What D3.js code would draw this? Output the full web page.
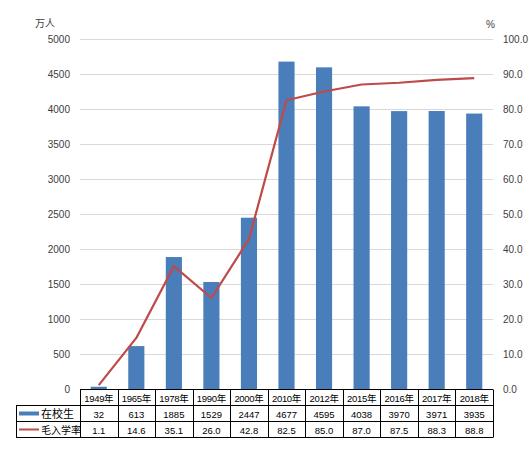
<!DOCTYPE html>
<html>
<head>
<meta charset="utf-8">
<title>在校生与毛入学率</title>
<style type="text/css">
	body{ margin:0; background:#fff; }
	text{ font-family:"Liberation Sans","Noto Sans CJK SC",sans-serif; font-size:10px; fill:#404040; }
	.grid line{ stroke:#d9d9d9; }
	.tbl line{ stroke:#000; }
	.tbl text{ fill:#000; font-size:9.5px; }
	.tbl .hdr{ font-size:9.5px; letter-spacing:-0.3px; }
</style>
<script src="https://cdn.jsdelivr.net/npm/d3@7"></script>
</head>
<body>
<script type="text/javascript">
	var width = 529, height = 450;

	// 数据
	var years = ["1949年", "1965年", "1978年", "1990年", "2000年", "2010年", "2012年", "2015年", "2016年", "2017年", "2018年"];
	var students = [32, 613, 1885, 1529, 2447, 4677, 4595, 4038, 3970, 3971, 3935];
	var rate = [1.1, 14.6, 35.1, 26.0, 42.8, 82.5, 85.0, 87.0, 87.5, 88.3, 88.8];
	var leftTicks = [0, 500, 1000, 1500, 2000, 2500, 3000, 3500, 4000, 4500, 5000];
	var rightTicks = [0, 10, 20, 30, 40, 50, 60, 70, 80, 90, 100];

	var plot = {left: 80, right: 493, top: 39, bottom: 389};
	var rowH = [16, 16, 16];
	var legendLeft = 16;

	var svg = d3.select("body").append("svg")
		.attr("width", width)
		.attr("height", height);

	var x = d3.scaleBand().domain(years).range([plot.left, plot.right]).paddingInner(0.57).paddingOuter(0.285);
	var xCol = d3.scaleBand().domain(years).range([plot.left, plot.right]);
	var yL = d3.scaleLinear().domain([0, 5000]).range([plot.bottom, plot.top]);
	var yR = d3.scaleLinear().domain([0, 100]).range([plot.bottom, plot.top]);

	// 网格线
	svg.append("g").attr("class", "grid")
		.selectAll("line").data(leftTicks.slice(1)).enter().append("line")
		.attr("x1", plot.left).attr("x2", plot.right)
		.attr("y1", function(d){ return Math.round(yL(d)) + 0.5; })
		.attr("y2", function(d){ return Math.round(yL(d)) + 0.5; });

	// 左轴
	var axL = svg.append("g").attr("transform", "translate(" + (plot.left - 10) + ",0)")
		.call(d3.axisLeft(yL).tickValues(leftTicks).tickSize(0).tickPadding(0).tickFormat(d3.format("d")));
	axL.select(".domain").remove();
	axL.selectAll("text").attr("font-family", null).attr("font-size", null);

	// 右轴
	var axR = svg.append("g").attr("transform", "translate(" + (plot.right + 10) + ",0)")
		.call(d3.axisRight(yR).tickValues(rightTicks).tickSize(0).tickPadding(0).tickFormat(d3.format(".1f")));
	axR.select(".domain").remove();
	axR.selectAll("text").attr("font-family", null).attr("font-size", null);

	svg.append("text").attr("x", 35).attr("y", 27).text("万人");
	svg.append("text").attr("x", 486).attr("y", 28).text("%");

	// 柱
	svg.append("g").selectAll("rect").data(students).enter().append("rect")
		.attr("x", function(d, i){ return x(years[i]); })
		.attr("width", x.bandwidth())
		.attr("y", function(d){ return yL(d); })
		.attr("height", function(d){ return plot.bottom - yL(d); })
		.style("fill", "#4a7ebb");

	// 折线
	var line = d3.line()
		.x(function(d, i){ return xCol(years[i]) + xCol.bandwidth() / 2; })
		.y(function(d){ return yR(d); });
	svg.append("path").datum(rate)
		.attr("d", line)
		.style("fill", "none")
		.style("stroke", "#be4b48")
		.style("stroke-width", 2.25)
		.style("stroke-linejoin", "round");

	// 数据表
	var tbl = svg.append("g").attr("class", "tbl");
	var y0 = plot.bottom + 0.5, y1 = y0 + rowH[0], y2 = y1 + rowH[1], y3 = y2 + rowH[2];
	tbl.append("line").attr("x1", plot.left).attr("x2", plot.right).attr("y1", y0).attr("y2", y0);
	[y1, y2, y3].forEach(function(yy){
		tbl.append("line").attr("x1", legendLeft).attr("x2", plot.right).attr("y1", yy).attr("y2", yy);
	});
	tbl.append("line").attr("x1", legendLeft + 0.5).attr("x2", legendLeft + 0.5).attr("y1", y1).attr("y2", y3);
	years.concat([null]).forEach(function(d, i){
		var xx = Math.round(i < years.length ? xCol(d) : plot.right) + 0.5;
		tbl.append("line").attr("x1", xx).attr("x2", xx).attr("y1", y0).attr("y2", y3);
	});
	function cx(i){ return xCol(years[i]) + xCol.bandwidth() / 2; }
	tbl.selectAll(".hdr").data(years).enter().append("text")
		.attr("class", "hdr")
		.attr("x", function(d, i){ return cx(i); }).attr("y", y0 + 12)
		.attr("text-anchor", "middle").text(function(d){ return d; });
	tbl.selectAll(".r1").data(students).enter().append("text")
		.attr("x", function(d, i){ return cx(i); }).attr("y", y1 + 12)
		.attr("text-anchor", "middle").text(function(d){ return d; });
	tbl.selectAll(".r2").data(rate).enter().append("text")
		.attr("x", function(d, i){ return cx(i); }).attr("y", y2 + 12)
		.attr("text-anchor", "middle").text(function(d){ return d3.format(".1f")(d); });

	// 图例
	svg.append("rect").attr("x", 19).attr("y", y1 + 6).attr("width", 20).attr("height", 4).style("fill", "#4a7ebb");
	svg.append("text").attr("x", 41).attr("y", y1 + 12).style("fill", "#000").style("font-size", "11px").text("在校生");
	svg.append("line").attr("x1", 19).attr("x2", 39).attr("y1", y2 + 8).attr("y2", y2 + 8)
		.style("stroke", "#be4b48").style("stroke-width", 2);
	svg.append("text").attr("x", 41).attr("y", y2 + 12).style("fill", "#000").style("font-size", "10px").text("毛入学率");
</script>
</body>
</html>
